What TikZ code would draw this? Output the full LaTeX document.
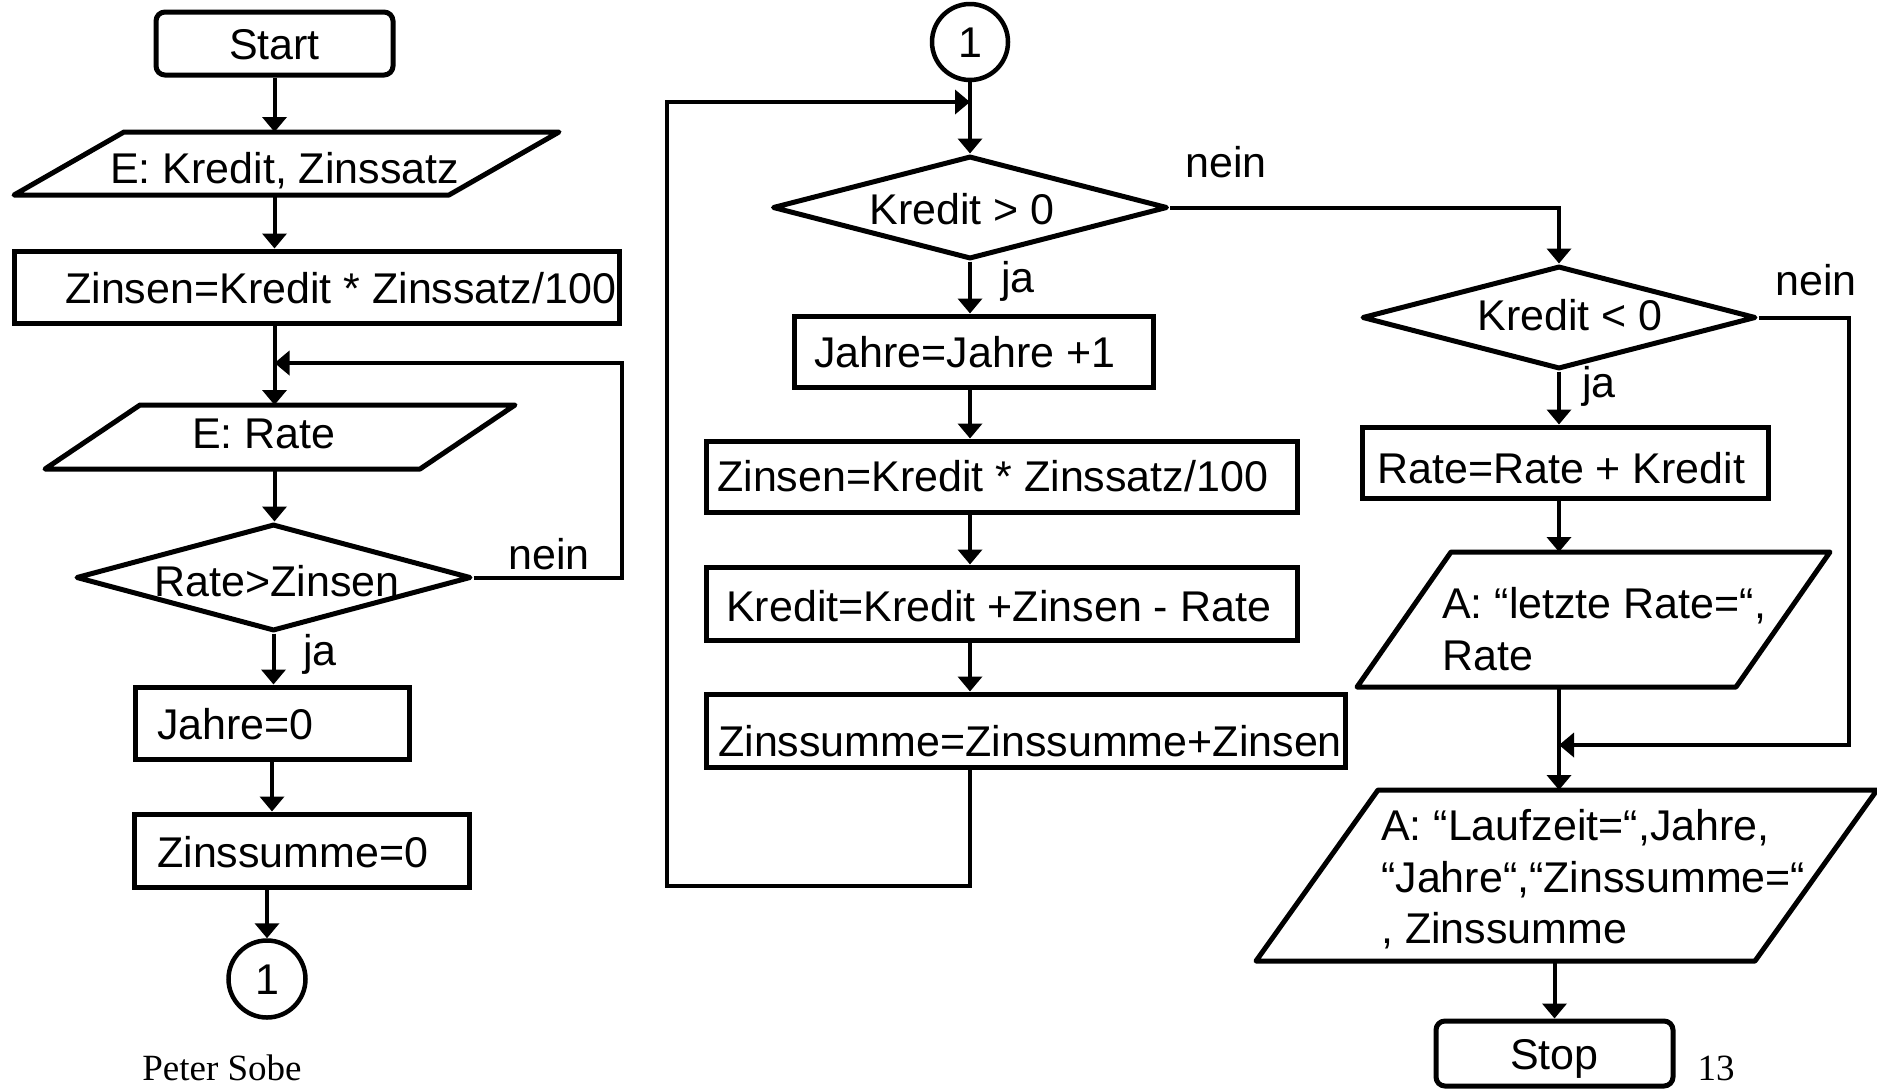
\documentclass[tikz,border=0pt]{standalone}
\usepackage{fontspec}
\setmainfont{Liberation Sans}
\newfontfamily\serifft{Liberation Serif}
\usetikzlibrary{arrows.meta,shapes.geometric,calc}
\begin{document}
\begin{tikzpicture}[x=1pt,y=-1pt,
  shp/.style={draw=black, line width=5pt, inner sep=0pt},
  boxn/.style={shp, rectangle},
  term/.style={shp, rectangle, rounded corners=9pt},
  dia/.style={shp, diamond, line join=round},
  conn/.style={shp, circle, line width=4.5pt},
  pbox/.style={rectangle, draw=none, inner sep=0pt, outer sep=0pt},
  txt/.style={font=\fontsize{43}{50}\selectfont, inner sep=0pt, text height=31pt, text depth=0pt},
  lbl/.style={font=\fontsize{43}{50}\selectfont, inner sep=0pt, anchor=base},
  pagetxt/.style={font=\serifft\fontsize{37}{40}\selectfont, inner sep=0pt, anchor=base},
  flow/.style={line width=4pt, -{Triangle[length=15pt,width=24pt]}},
  wire/.style={line width=4pt},
]
\useasboundingbox (0,0) rectangle (1877,1088);

% ---------- left column ----------
\node[term, txt, minimum width=237pt, minimum height=63pt] (start) at (274.5,43.5) {Start};

\node[pbox, minimum width=545pt, minimum height=63pt] (p1) at (286.5,163.5) {};
\draw[shp, line join=round] ($(p1.north west)+(110,0)$) -- (p1.north east) -- ($(p1.south east)+(-110,0)$) -- (p1.south west) -- cycle;
\node[txt, anchor=west] (p1t) at (110,168) {E: Kredit, Zinssatz};

\node[boxn, minimum width=605pt, minimum height=72pt] (z1) at (316.5,287) {};
\node[txt, anchor=west] (z1t) at (65,288) {Zinsen=Kredit * Zinssatz/100};

\node[pbox, minimum width=470pt, minimum height=64pt] (p2) at (280,437) {};
\draw[shp, line join=round] ($(p2.north west)+(95,0)$) -- (p2.north east) -- ($(p2.south east)+(-95,0)$) -- (p2.south west) -- cycle;
\node[txt, anchor=west] (p2t) at (192,433) {E: Rate};

\node[dia, minimum width=395pt, minimum height=107pt] (d1) at (273.5,577.5) {};
\node[txt] (d1t) at (277,581) {Rate>Zinsen};

\node[boxn, minimum width=274pt, minimum height=72pt] (j0) at (272,723) {};
\node[txt, anchor=west] (j0t) at (157,724) {Jahre=0};

\node[boxn, minimum width=335pt, minimum height=73pt] (zs0) at (301.5,850.5) {};
\node[txt, anchor=west] (zs0t) at (157,852) {Zinssumme=0};

\node[conn, txt, minimum size=77pt] (c1) at (267,979) {1};

\coordinate (m1) at (274.5,363);

\draw[flow] (start.south) -- (start.south |- p1.north);
\draw[flow] (start.south |- p1.south) -- (start.south |- z1.north);
\draw[flow] (start.south |- z1.south) -- (start.south |- p2.north);
\draw[flow] (d1.east) -| (z1.east |- m1) -- (m1);
\draw[flow] (start.south |- p2.south) -- (start.south |- d1.north);
\draw[flow] (d1.south) -- (d1.south |- j0.north);
\draw[flow] (j0.south) -- (j0.south |- zs0.north);
\draw[flow] (c1.north |- zs0.south) -- (c1.north);

\node[lbl] (n1) at (549,569) {nein};
\node[lbl] (ja1) at (320,665) {ja};

% ---------- middle column ----------
\node[conn, txt, minimum size=76pt] (c2) at (970,42) {1};

\node[dia, minimum width=395pt, minimum height=103pt] (d2) at (970,207.5) {};
\node[txt] (d2t) at (962,209) {Kredit > 0};

\node[boxn, minimum width=359pt, minimum height=71pt] (r1) at (973.5,351.5) {};
\node[txt, anchor=west] (r1t) at (814,352) {Jahre=Jahre +1};

\node[boxn, minimum width=591pt, minimum height=71pt] (r2) at (1001.5,476.5) {};
\node[txt, anchor=west] (r2t) at (717,476) {Zinsen=Kredit * Zinssatz/100};

\node[boxn, minimum width=591pt, minimum height=73pt] (r3) at (1001.5,603.5) {};
\node[txt, anchor=west] (r3t) at (726,606) {Kredit=Kredit +Zinsen - Rate};

\node[boxn, minimum width=639pt, minimum height=73pt] (r4) at (1025.5,730.5) {};
\node[txt, anchor=west] (r4t) at (718,741) {Zinssumme=Zinssumme+Zinsen};

\coordinate (m2) at (970,102);
\coordinate (lb) at (970,886);
\coordinate (lc) at (667,102);

\draw[flow] (c2.south) -- (d2.north);
\draw[flow] (d2.south) -- (d2.south |- r1.north);
\draw[flow] (d2.south |- r1.south) -- (d2.south |- r2.north);
\draw[flow] (d2.south |- r2.south) -- (d2.south |- r3.north);
\draw[flow] (d2.south |- r3.south) -- (d2.south |- r4.north);
\draw[flow] (d2.south |- r4.south) -- (lb) -| (lc) -- (m2);

\node[lbl] (n2) at (1226,177) {nein};
\node[lbl] (ja2) at (1018,292) {ja};

% ---------- right column ----------
\node[dia, minimum width=394pt, minimum height=103pt] (d3) at (1559,317.5) {};
\node[txt] (d3t) at (1570,315) {Kredit < 0};

\node[boxn, minimum width=406pt, minimum height=71pt] (r5) at (1565,462.5) {};
\node[txt, anchor=west] (r5t) at (1377,468) {Rate=Rate + Kredit};

\node[pbox, minimum width=473pt, minimum height=135pt] (p4) at (1593.5,619.5) {};
\draw[shp, line join=round] ($(p4.north west)+(94,0)$) -- (p4.north east) -- ($(p4.south east)+(-94,0)$) -- (p4.south west) -- cycle;
\node[lbl, anchor=base west] (p4a) at (1442,618) {A: “letzte Rate=“,};
\node[lbl, anchor=base west] (p4b) at (1442,670) {Rate};

\node[pbox, minimum width=621pt, minimum height=171pt] (p5) at (1566.5,875.5) {};
\draw[shp, line join=round] ($(p5.north west)+(122,0)$) -- (p5.north east) -- ($(p5.south east)+(-122,0)$) -- (p5.south west) -- cycle;
\node[lbl, anchor=base west] (p5a) at (1381,840) {A: “Laufzeit=“,Jahre,};
\node[lbl, anchor=base west] (p5b) at (1381,892) {“Jahre“,“Zinssumme=“};
\node[lbl, anchor=base west] (p5c) at (1381,943) {, Zinssumme};

\node[term, txt, minimum width=237pt, minimum height=65pt] (stop) at (1554.5,1053.5) {Stop};

\coordinate (m3) at (1559,745);
\coordinate (rc) at (1849,745);

\draw[flow] (d2.east) -| (d3.north);
\draw[flow] (d3.south) -- (d3.south |- r5.north);
\draw[flow] (d3.south |- r5.south) -- (d3.south |- p4.north);
\draw[flow] (d3.south |- p4.south) -- (d3.south |- p5.north);
\draw[flow] (d3.east) -| (rc) -- (m3);
\draw[flow] (stop.north |- p5.south) -- (stop.north);

\node[lbl] (n3) at (1816,295) {nein};
\node[lbl] (ja3) at (1599,397) {ja};

% ---------- footer ----------
\node[pagetxt] (author) at (222,1080) {Peter Sobe};
\node[pagetxt] (pagenum) at (1716,1080) {13};
\end{tikzpicture}
\end{document}
